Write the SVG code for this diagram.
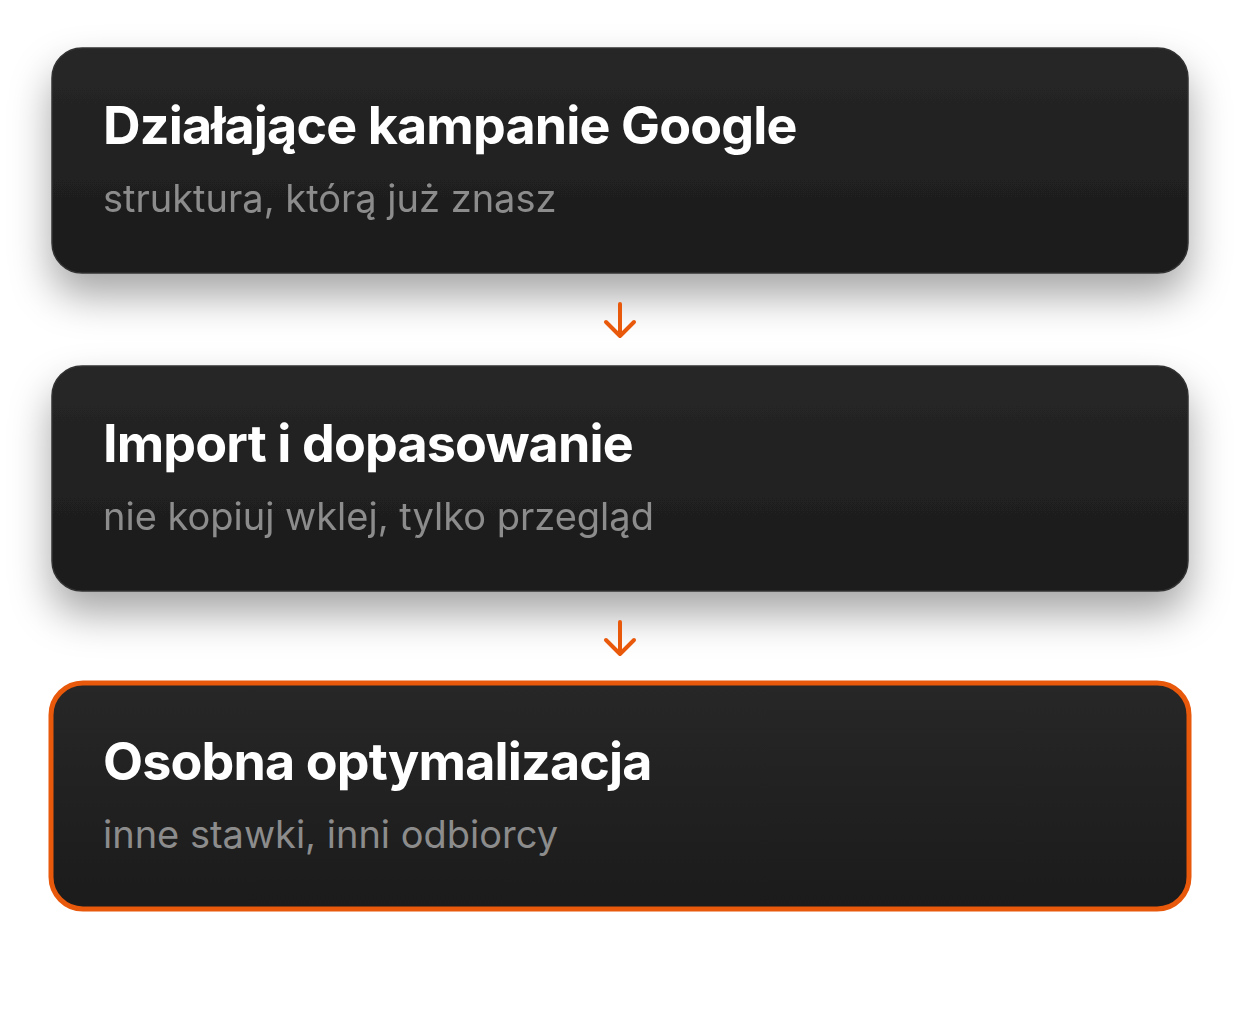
<svg xmlns="http://www.w3.org/2000/svg" width="1240" height="1010" viewBox="0 0 1240 1010">
<defs>
<linearGradient id="card" x1="0" y1="0" x2="0" y2="1">
<stop offset="0" stop-color="#272727"/>
<stop offset="1" stop-color="#1b1b1b"/>
</linearGradient>
<filter id="sh" x="-10%" y="-30%" width="120%" height="180%">
<feDropShadow dx="0" dy="22" stdDeviation="20" flood-color="#000" flood-opacity="0.35"/>
</filter>
</defs>
<style>
.card{fill:url(#card);stroke:#333;stroke-width:1.5}
.hl{stroke:#e8590c;stroke-width:5}
.t{font-family:Inter,"Noto Sans",sans-serif;font-weight:700;font-size:52px;fill:#fff;letter-spacing:-0.85px}
.s{font-family:Inter,"Noto Sans",sans-serif;font-weight:400;font-size:38px;fill:#8c8c8c}
.arr{fill:none;stroke:#e8590c;stroke-width:4;stroke-linecap:round;stroke-linejoin:round}
</style>
<rect width="1240" height="1010" fill="#fff"/>
<g id="node1" filter="url(#sh)">
<rect class="card" x="52" y="48" width="1136" height="225" rx="30"/>
<text class="t" x="103" y="144">Działające kampanie Google</text>
<text class="s" x="103" y="212">struktura, którą już znasz</text>
</g>
<g id="node2" filter="url(#sh)">
<rect class="card" x="52" y="366" width="1136" height="225" rx="30"/>
<text class="t" x="103" y="462">Import i dopasowanie</text>
<text class="s" x="103" y="530">nie kopiuj wklej, tylko przegląd</text>
</g>
<g id="node3">
<rect class="card hl" x="51" y="683" width="1138" height="226" rx="32"/>
<text class="t" x="103" y="780">Osobna optymalizacja</text>
<text class="s" x="103" y="848">inne stawki, inni odbiorcy</text>
</g>
<g id="connectors">
<path class="arr" d="M620 304 V336 M606 322 L620 336 L634 322"/>
<path class="arr" d="M620 622 V654 M606 640 L620 654 L634 640"/>
</g>
</svg>
